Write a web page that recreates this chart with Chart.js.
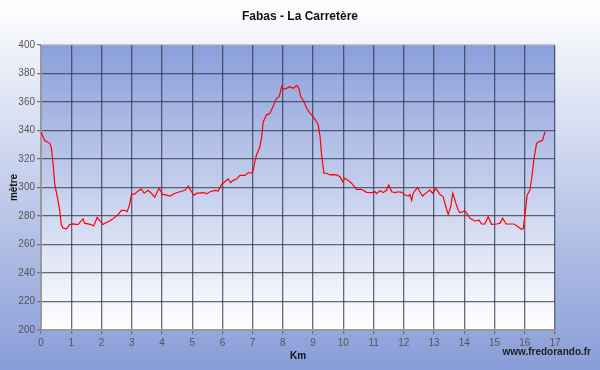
<!DOCTYPE html>
<html lang="fr">
<head>
    <meta charset="UTF-8">
    <title>Fabas - La Carretère</title>
    <script src="https://cdn.jsdelivr.net/npm/chart.js@4.4.1/dist/chart.umd.js"></script>
    <style>
        html, body { margin: 0; padding: 0; background: #fff; }
        .chart-container { width: 600px; height: 370px; }
    </style>
</head>
<body>
    <div class="chart-container">
        <canvas id="profil"></canvas>
    </div>

    <script>
        // profil altimétrique
        const distanceKm = [
            0, 0.12, 0.29, 0.34, 0.4, 0.45, 0.56, 0.62, 0.67, 0.73, 0.84, 0.95,
            1.06, 1.22, 1.39, 1.44, 1.55, 1.66, 1.74, 1.86, 1.94, 2.05, 2.16, 2.27,
            2.38, 2.55, 2.66, 2.77, 2.85, 2.93, 2.99, 3.1, 3.18, 3.32, 3.41, 3.54,
            3.65, 3.76, 3.9, 4.03, 4.1, 4.27, 4.43, 4.6, 4.76, 4.87, 4.98, 5.07,
            5.15, 5.26, 5.37, 5.48, 5.59, 5.75, 5.86, 5.97, 6.08, 6.19, 6.27, 6.36,
            6.47, 6.58, 6.75, 6.86, 6.97, 7.02, 7.08, 7.13, 7.24, 7.3, 7.35, 7.46,
            7.57, 7.68, 7.79, 7.88, 7.96, 8.01, 8.12, 8.23, 8.34, 8.46, 8.53, 8.59,
            8.67, 8.79, 8.9, 9.0, 9.12, 9.17, 9.23, 9.28, 9.36, 9.45, 9.56, 9.67,
            9.78, 9.89, 9.98, 10.05, 10.16, 10.27, 10.44, 10.6, 10.77, 10.94, 11.05, 11.1,
            11.21, 11.32, 11.43, 11.5, 11.6, 11.71, 11.82, 11.93, 12.04, 12.15, 12.2, 12.26,
            12.31, 12.45, 12.53, 12.62, 12.75, 12.86, 12.95, 13.06, 13.2, 13.3, 13.39, 13.47,
            13.55, 13.62, 13.72, 13.8, 13.86, 14.02, 14.19, 14.35, 14.49, 14.57, 14.68, 14.79,
            14.9, 15.07, 15.18, 15.27, 15.38, 15.51, 15.64, 15.78, 15.9, 15.95, 16.0, 16.08,
            16.17, 16.23, 16.3, 16.39, 16.48, 16.59, 16.67
        ];
        const altitude = [
            339, 333, 331, 328, 317, 303, 291, 284, 274, 271.5, 271, 274,
            274.5, 274, 278, 275, 274.5, 274, 273, 279, 277, 274, 275.5, 276.5,
            278, 281, 284, 284, 283, 288, 295, 295.5, 297, 299, 296, 298,
            296, 293, 299.5, 295, 295, 294, 296, 297, 298, 301, 297, 294.5,
            296, 296, 296.5, 295.5, 297, 298, 297.5, 302, 304, 306, 303.5, 305,
            306, 308.5, 308.5, 310.5, 310, 312, 319, 323, 328.6, 335.7, 346, 351,
            352, 357, 362.6, 363.7, 370.8, 369, 369.6, 370.8, 369.6, 371.5, 369.6, 363.7,
            361.4, 355.6, 352, 349.7, 346, 344, 335.6, 322.8, 310, 310, 308.8, 309,
            308.8, 307.6, 304, 306.5, 305, 303, 298.7, 298.7, 296.6, 296.4, 297, 295.7,
            297.8, 296.4, 298.2, 301.8, 297, 296.4, 297, 296.6, 294.7, 294, 295, 291,
            296, 300, 297, 294, 296.4, 298.2, 296, 299.4, 295, 293.6, 286.5, 281,
            286.5, 296, 289, 284, 282.3, 283.7, 278.4, 276.5, 277, 274.4, 274.4, 279.5,
            274.2, 274.4, 275, 278.4, 274.4, 274.4, 274.4, 272.5, 270.6, 271.3, 279.5, 294.7,
            298.2, 306.5, 319.3, 331, 332.2, 333.3, 339.2
        ];
        const yMin = 200, yMax = 400, yStep = 20;
        const xMin = 0, xMax = 17, xStep = 1;
        const titre = 'Fabas - La Carretère';

        const points = distanceKm.map((d, i) => ({ x: d, y: altitude[i] }));

        // fonds dégradés : page blanc -> bleu, zone de tracé bleu -> blanc
        const fonds = {
            id: 'fonds',
            beforeDraw(chart) {
                const ctx = chart.ctx;
                const a = chart.chartArea;
                ctx.save();
                let g = ctx.createLinearGradient(0, 0, 0, chart.height);
                g.addColorStop(0, '#ffffff');
                g.addColorStop(1, '#889dd8');
                ctx.fillStyle = g;
                ctx.fillRect(0, 0, chart.width, chart.height);
                g = ctx.createLinearGradient(0, a.top, 0, a.bottom);
                g.addColorStop(0, '#8a9fdb');
                g.addColorStop(1, '#ffffff');
                ctx.fillStyle = g;
                ctx.fillRect(a.left, a.top, a.right - a.left, a.bottom - a.top);
                ctx.restore();
            },
            afterDraw(chart) {
                const ctx = chart.ctx;
                ctx.save();
                ctx.fillStyle = '#111';
                ctx.textBaseline = 'middle';
                // titre centré sur la page
                ctx.font = 'bold 12px Arial';
                ctx.textAlign = 'center';
                ctx.fillText(titre, 300, 17);
                ctx.font = 'bold 10px Arial';
                ctx.fillStyle = '#222';
                ctx.textAlign = 'right';
                ctx.fillText('www.fredorando.fr', 591, 352);
                ctx.restore();
            }
        };

        const gridColor = 'rgba(45, 50, 70, 0.72)';

        new Chart(document.getElementById('profil'), {
            type: 'line',
            data: {
                datasets: [{
                    data: points,
                    borderColor: '#ff0000',
                    borderWidth: 1.2,
                    pointRadius: 0,
                    tension: 0,
                    fill: false
                }]
            },
            options: {
                responsive: true,
                maintainAspectRatio: false,
                animation: false,
                layout: { padding: { top: 45, right: 45 } },
                plugins: {
                    legend: { display: false },
                    tooltip: { enabled: false },
                    title: { display: false }
                },
                scales: {
                    x: {
                        type: 'linear',
                        min: xMin,
                        max: xMax,
                        afterFit(scale) { scale.height = 40; },
                        ticks: {
                            stepSize: xStep,
                            color: '#555',
                            padding: 3,
                            maxRotation: 0,
                            font: { family: 'Arial', size: 10 }
                        },
                        grid: {
                            color: (c) => c.tick && c.tick.value === xMin ? '#999' : gridColor,
                            lineWidth: 1.3,
                            tickLength: 4,
                            tickColor: '#777'
                        },
                        border: { color: '#999' },
                        title: {
                            display: true,
                            text: 'Km',
                            color: '#111',
                            font: { family: 'Arial', size: 10, weight: 'bold', lineHeight: 1.2 },
                            padding: { top: 0, bottom: 8 }
                        }
                    },
                    y: {
                        min: yMin,
                        max: yMax,
                        afterFit(scale) { scale.width = 41; },
                        ticks: {
                            stepSize: yStep,
                            color: '#555',
                            padding: 2,
                            font: { family: 'Arial', size: 10 }
                        },
                        grid: {
                            color: (c) => {
                                if (!c.tick) return gridColor;
                                if (c.tick.value === yMax) return '#c8c8c8';
                                if (c.tick.value === yMin) return '#999';
                                return gridColor;
                            },
                            lineWidth: 1.3,
                            tickLength: 4,
                            tickColor: '#777'
                        },
                        border: { color: '#999' },
                        title: {
                            display: true,
                            text: 'mètre',
                            color: '#111',
                            font: { family: 'Arial', size: 10, weight: 'bold', lineHeight: 1.2 },
                            padding: { top: 8, bottom: 0 }
                        }
                    }
                }
            },
            plugins: [fonds]
        });
    </script>
</body>
</html>
